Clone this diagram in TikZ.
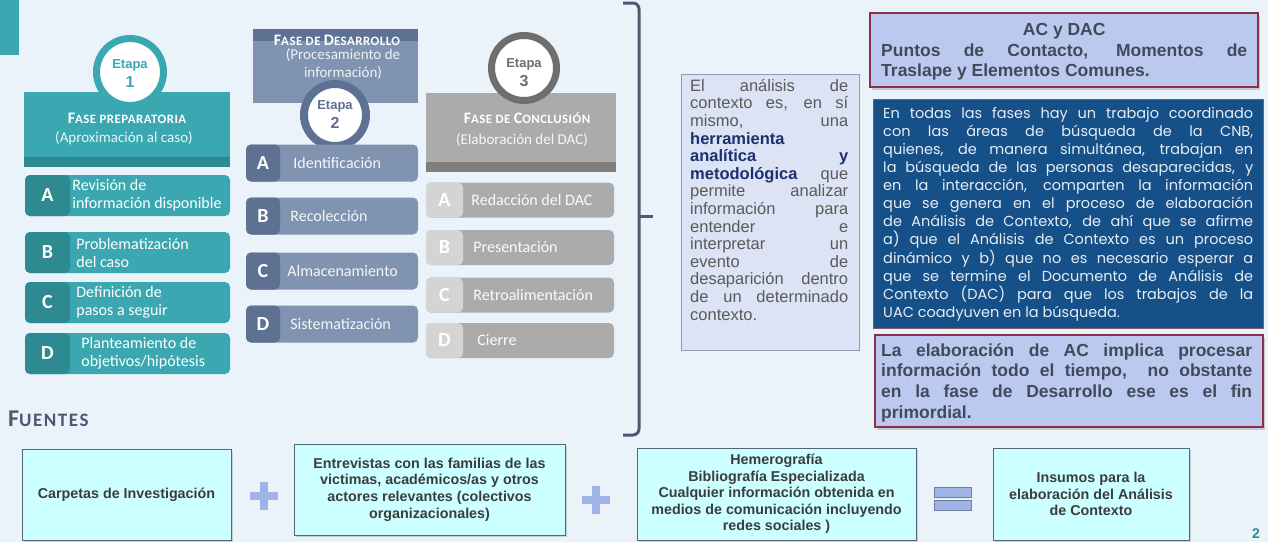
\documentclass[tikz,border=0pt]{standalone}
\usepackage{fontspec}
\setmainfont{Liberation Sans}
\newfontfamily\stagefont{Carlito}
\newfontfamily\notefont{Poppins}
\usetikzlibrary{positioning, shadows}
\definecolor{pagebg}{RGB}{234, 243, 250}
\definecolor{tealmain}{RGB}{58, 167, 177}
\definecolor{tealdark}{RGB}{46, 138, 145}
\definecolor{slatemain}{RGB}{128, 147, 176}
\definecolor{slatedark}{RGB}{94, 113, 146}
\definecolor{graymain}{RGB}{171, 171, 171}
\definecolor{graydark}{RGB}{127, 127, 127}
\definecolor{graytab}{RGB}{212, 212, 212}
\definecolor{ringgray}{RGB}{110, 110, 110}
\definecolor{notefill}{RGB}{220, 227, 244}
\definecolor{noteline}{RGB}{140, 155, 184}
\definecolor{navytext}{RGB}{31, 47, 110}
\definecolor{bodygray}{RGB}{90, 90, 90}
\definecolor{lavender}{RGB}{188, 201, 239}
\definecolor{maroon}{RGB}{140, 47, 72}
\definecolor{deepblue}{RGB}{21, 80, 137}
\definecolor{cyanfill}{RGB}{204, 255, 255}
\definecolor{cyanline}{RGB}{86, 101, 122}
\definecolor{plusblue}{RGB}{159, 179, 230}
\definecolor{bracecol}{RGB}{75, 90, 114}
\definecolor{darktext}{RGB}{60, 60, 60}
\definecolor{headtext}{RGB}{64, 74, 90}
\newcommand{\capsc}[2]{{\fontsize{16}{18}\selectfont #1}{\fontsize{12.8}{18}\selectfont #2}}
\newcommand{\jline}[2]{\makebox[#1][s]{#2}}
\newcommand{\keyword}[1]{\textcolor{navytext}{\textbf{#1}}}
\setlength{\lineskiplimit}{-\maxdimen}
\begin{document}
\begin{tikzpicture}[x=1pt, y=-1pt,
    stagehead/.style={rectangle, inner sep=0pt},
    headtitle/.style={inner sep=0pt, align=center, text=white, font=\stagefont\bfseries\addfontfeature{LetterSpace=4}},
    headsub/.style={inner sep=0pt, align=center, font=\stagefont\fontsize{15}{18}\selectfont},
    ring/.style={circle, fill=white, inner sep=0pt, line width=7pt},
    etapa/.style={inner sep=0pt, align=center, font=\bfseries\fontsize{13}{19}\selectfont},
    itembox/.style={rectangle, rounded corners=5pt, inner sep=0pt},
    itemtab/.style={rectangle, rounded corners=5pt, inner sep=0pt, anchor=west,
                    text=white, font=\stagefont\bfseries\fontsize{20}{20}\selectfont},
    itemtext/.style={anchor=west, inner sep=0pt, align=left, font=\stagefont\fontsize{16}{18}\selectfont},
    infobox/.style={rectangle, draw=maroon, line width=1.2pt, fill=lavender, inner sep=0pt,
                    drop shadow={shadow xshift=2pt, shadow yshift=-2.5pt, opacity=0.35}},
    infotext/.style={anchor=north west, inner sep=0pt, align=left, text=headtext,
                     font=\bfseries\fontsize{17.5}{20.7}\selectfont},
    srcbox/.style={rectangle, draw=cyanline, line width=1pt, fill=cyanfill, inner sep=0pt,
                   align=center, text=darktext, font=\bfseries\fontsize{14.3}{16.6}\selectfont,
                   drop shadow={shadow xshift=2pt, shadow yshift=-2pt, opacity=0.3}},
    signbar/.style={rectangle, fill=plusblue, inner sep=0pt}
]

\useasboundingbox (0,0) rectangle (1268,542);
\fill[pagebg] (0,0) rectangle (1268,542);
\fill[tealmain] (0,0) rectangle (19,55);

% Etapa 1
\node[stagehead, fill=tealmain, minimum width=206pt, minimum height=75pt] (s1head) at (127,129.5) {};
\node[stagehead, fill=tealdark, minimum width=206pt, minimum height=10pt] (s1strip) at (127,162) {};
\node[headtitle] (s1title) at (127,118) {\capsc{F}{ASE PREPARATORIA}};
\node[headsub, text=white!90!tealmain] (s1sub) at (124,138) {(Aproximación al caso)};
\node[ring, draw=tealmain, minimum size=67pt] (s1ring) at (130,72) {};
\node[etapa, text=tealmain] (s1etapa) at (130,73.5) {Etapa\\{\fontsize{16}{19}\selectfont 1}};

\node[itembox, fill=tealmain, minimum width=205pt, minimum height=41pt] (s1a) at (127.5,195.5) {};
\node[itemtab, fill=tealdark, minimum width=45pt, minimum height=41pt] (s1atab) at (s1a.west) {A};
\node[itemtext, text=white, right=2pt of s1atab] (s1atext) {Revisión de\\información disponible};
\node[itembox, fill=tealmain, minimum width=205pt, minimum height=41pt] (s1b) at (127.5,252.5) {};
\node[itemtab, fill=tealdark, minimum width=45pt, minimum height=41pt] (s1btab) at (s1b.west) {B};
\node[itemtext, text=white, right=6pt of s1btab] (s1btext) {Problematización\\del caso};
\node[itembox, fill=tealmain, minimum width=205pt, minimum height=41pt] (s1c) at (127.5,302.5) {};
\node[itemtab, fill=tealdark, minimum width=45pt, minimum height=41pt] (s1ctab) at (s1c.west) {C};
\node[itemtext, text=white, right=6pt of s1ctab] (s1ctext) {Definición de\\pasos a seguir};
\node[itembox, fill=tealmain, minimum width=205pt, minimum height=41pt] (s1d) at (127.5,353.5) {};
\node[itemtab, fill=tealdark, minimum width=45pt, minimum height=41pt] (s1dtab) at (s1d.west) {D};
\node[itemtext, text=white, right=11pt of s1dtab] (s1dtext) {Planteamiento de\\objetivos/hipótesis};

% Etapa 2
\node[stagehead, fill=slatemain, minimum width=165pt, minimum height=74pt] (s2head) at (335.5,66) {};
\node[stagehead, fill=slatedark, minimum width=165pt, minimum height=12pt] (s2strip) at (335.5,35) {};
\node[headtitle] (s2title) at (337,40) {\capsc{F}{ASE DE }\capsc{D}{ESARROLLO}};
\node[headsub, text=white!88!slatemain] (s2sub) at (343,64) {(Procesamiento de\\información)};
\node[ring, draw=slatedark, line width=8pt, minimum size=62pt] (s2ring) at (335,115) {};
\node[etapa, text=slatedark] (s2etapa) at (335,114.5) {Etapa\\{\fontsize{16}{19}\selectfont 2}};

\node[itembox, fill=slatemain, minimum width=172pt, minimum height=37pt] (s2a) at (332,163) {};
\node[itemtab, fill=slatedark, minimum width=34pt, minimum height=37pt] (s2atab) at (s2a.west) {A};
\node[itemtext, text=white!92!slatemain, right=13pt of s2atab] (s2atext) {Identificación};
\node[itembox, fill=slatemain, minimum width=172pt, minimum height=37pt] (s2b) at (332,216) {};
\node[itemtab, fill=slatedark, minimum width=34pt, minimum height=37pt] (s2btab) at (s2b.west) {B};
\node[itemtext, text=white!92!slatemain, right=10pt of s2btab] (s2btext) {Recolección};
\node[itembox, fill=slatemain, minimum width=172pt, minimum height=37pt] (s2c) at (332,271) {};
\node[itemtab, fill=slatedark, minimum width=34pt, minimum height=37pt] (s2ctab) at (s2c.west) {C};
\node[itemtext, text=white!92!slatemain, right=7pt of s2ctab] (s2ctext) {Almacenamiento};
\node[itembox, fill=slatemain, minimum width=172pt, minimum height=37pt] (s2d) at (332,324) {};
\node[itemtab, fill=slatedark, minimum width=34pt, minimum height=37pt] (s2dtab) at (s2d.west) {D};
\node[itemtext, text=white!92!slatemain, right=10pt of s2dtab] (s2dtext) {Sistematización};

% Etapa 3
\node[stagehead, fill=graymain, minimum width=190pt, minimum height=79pt] (s3head) at (521,132.5) {};
\node[stagehead, fill=graydark, minimum width=190pt, minimum height=10pt] (s3strip) at (521,167) {};
\node[headtitle] (s3title) at (527,118) {\capsc{F}{ASE DE }\capsc{C}{ONCLUSIÓN}};
\node[headsub, text=white!90!graymain] (s3sub) at (522,140) {(Elaboración del DAC)};
\node[ring, draw=ringgray, minimum size=65pt] (s3ring) at (524,68) {};
\node[etapa, text=ringgray] (s3etapa) at (524,72.5) {Etapa\\{\fontsize{16}{19}\selectfont 3}};

\node[itembox, fill=graymain, minimum width=188pt, minimum height=35pt] (s3a) at (520,200) {};
\node[itemtab, fill=graytab, minimum width=37pt, minimum height=35pt] (s3atab) at (s3a.west) {A};
\node[itemtext, text=white!95!graymain, right=8pt of s3atab] (s3atext) {Redacción del DAC};
\node[itembox, fill=graymain, minimum width=188pt, minimum height=35pt] (s3b) at (520,247.5) {};
\node[itemtab, fill=graytab, minimum width=37pt, minimum height=35pt] (s3btab) at (s3b.west) {B};
\node[itemtext, text=white!95!graymain, right=10pt of s3btab] (s3btext) {Presentación};
\node[itembox, fill=graymain, minimum width=188pt, minimum height=35pt] (s3c) at (520,295) {};
\node[itemtab, fill=graytab, minimum width=37pt, minimum height=35pt] (s3ctab) at (s3c.west) {C};
\node[itemtext, text=white!95!graymain, right=10pt of s3ctab] (s3ctext) {Retroalimentación};
\node[itembox, fill=graymain, minimum width=188pt, minimum height=35pt] (s3d) at (520,340.5) {};
\node[itemtab, fill=graytab, minimum width=37pt, minimum height=35pt] (s3dtab) at (s3d.west) {D};
\node[itemtext, text=white!95!graymain, right=14pt of s3dtab] (s3dtext) {Cierre};

% llave
\draw[bracecol, line width=3pt, rounded corners=6pt] (623,3) -- (639,3) -- (639,435) -- (623,435);
\draw[bracecol, line width=3pt] (639,216) -- (653,216);

% definicion
\node[rectangle, draw=noteline, fill=notefill, line width=0.8pt, minimum width=178pt,
      minimum height=276pt, inner sep=0pt] (ctxbox) at (770,212) {};
\node[anchor=north west, inner sep=0pt, align=left, text=bodygray,
      font=\fontsize{16.5}{17.6}\selectfont] (ctxtext) at (690,79) {%
\jline{158pt}{El análisis de}\\
\jline{158pt}{contexto es, en sí}\\
\jline{158pt}{mismo, una}\\
\keyword{herramienta}\\
\jline{158pt}{\keyword{analítica} \keyword{y}}\\
\jline{158pt}{\keyword{metodológica} que}\\
\jline{158pt}{permite analizar}\\
\jline{158pt}{información para}\\
\jline{158pt}{entender e}\\
\jline{158pt}{interpretar un}\\
\jline{158pt}{evento de}\\
\jline{158pt}{desaparición dentro}\\
\jline{158pt}{de un determinado}\\
contexto.};

% columna derecha
\node[infobox, minimum width=388pt, minimum height=74pt] (acbox) at (1064,50) {};
\node[infotext] (actext) at (881,23) {%
\makebox[366pt]{AC y DAC}\\
\jline{366pt}{Puntos de Contacto, Momentos de}\\
Traslape y Elementos Comunes.};

\node[rectangle, draw=maroon!50!gray, line width=0.8pt, fill=deepblue, minimum width=390pt,
      minimum height=229pt, inner sep=0pt] (cnbbox) at (1068,213.5) {};
\node[anchor=north west, inner sep=0pt, align=left, text=white!90!deepblue,
      font=\notefont\fontsize{14.5}{18.1}\selectfont] (cnbtext) at (883,107) {%
\jline{370pt}{En todas las fases hay un trabajo coordinado}\\
\jline{370pt}{con las áreas de búsqueda de la CNB,}\\
\jline{370pt}{quienes, de manera simultánea, trabajan en}\\
\jline{370pt}{la búsqueda de las personas desaparecidas, y}\\
\jline{370pt}{en la interacción, comparten la información}\\
\jline{370pt}{que se genera en el proceso de elaboración}\\
\jline{370pt}{de Análisis de Contexto, de ahí que se afirme}\\
\jline{370pt}{a) que el Análisis de Contexto es un proceso}\\
\jline{370pt}{dinámico y b) que no es necesario esperar a}\\
\jline{370pt}{que se termine el Documento de Análisis de}\\
\jline{370pt}{Contexto (DAC) para que los trabajos de la}\\
UAC coadyuven en la búsqueda.};

\node[infobox, minimum width=388pt, minimum height=92pt] (procbox) at (1069,381) {};
\node[infotext] (proctext) at (881,343) {%
\jline{371pt}{La elaboración de AC implica procesar}\\
\jline{371pt}{información todo el tiempo,\ \ no obstante}\\
\jline{371pt}{en la fase de Desarrollo ese es el fin}\\
primordial.};

% fuentes
\node[anchor=west, inner sep=0pt, text=bracecol, font=\stagefont\bfseries\addfontfeature{LetterSpace=8}] (fuentes) at (8,419)
     {{\fontsize{24}{26}\selectfont F}{\fontsize{19}{26}\selectfont UENTES}};

\node[srcbox, minimum width=209pt, minimum height=91pt] (carpetas) at (126.5,494.5) {Carpetas de Investigación};
\node[srcbox, minimum width=271pt, minimum height=91pt] (entrevistas) at (429.5,489.5)
     {Entrevistas con las familias de las\\victimas, académicos/as y otros\\actores relevantes (colectivos\\organizacionales)};
\node[srcbox, minimum width=279pt, minimum height=92pt] (hemerografia) at (776.5,494)
     {Hemerografía\\Bibliografía Especializada\\Cualquier información obtenida en\\medios de comunicación incluyendo\\redes sociales )};
\node[srcbox, minimum width=196pt, minimum height=92pt] (insumos) at (1091,494)
     {Insumos para la\\elaboración del Análisis\\de Contexto};

\node[signbar, minimum width=28pt, minimum height=8pt] (plusonebar) at (264,496) {};
\node[signbar, minimum width=8pt, minimum height=28pt] (plusonepost) at (264,496) {};
\node[signbar, minimum width=28pt, minimum height=8pt] (plustwobar) at (596,500) {};
\node[signbar, minimum width=8pt, minimum height=28pt] (plustwopost) at (596,500) {};
\node[signbar, draw=plusblue!70!black, line width=0.6pt, minimum width=37pt, minimum height=10pt] (equalstop) at (953,492) {};
\node[signbar, draw=plusblue!70!black, line width=0.6pt, minimum width=37pt, minimum height=10pt] (equalsbot) at (953,505.5) {};

\node[inner sep=0pt, text=tealdark, font=\bfseries\fontsize{14}{14}\selectfont] (pagenum) at (1256,534) {2};

\end{tikzpicture}
\end{document}
